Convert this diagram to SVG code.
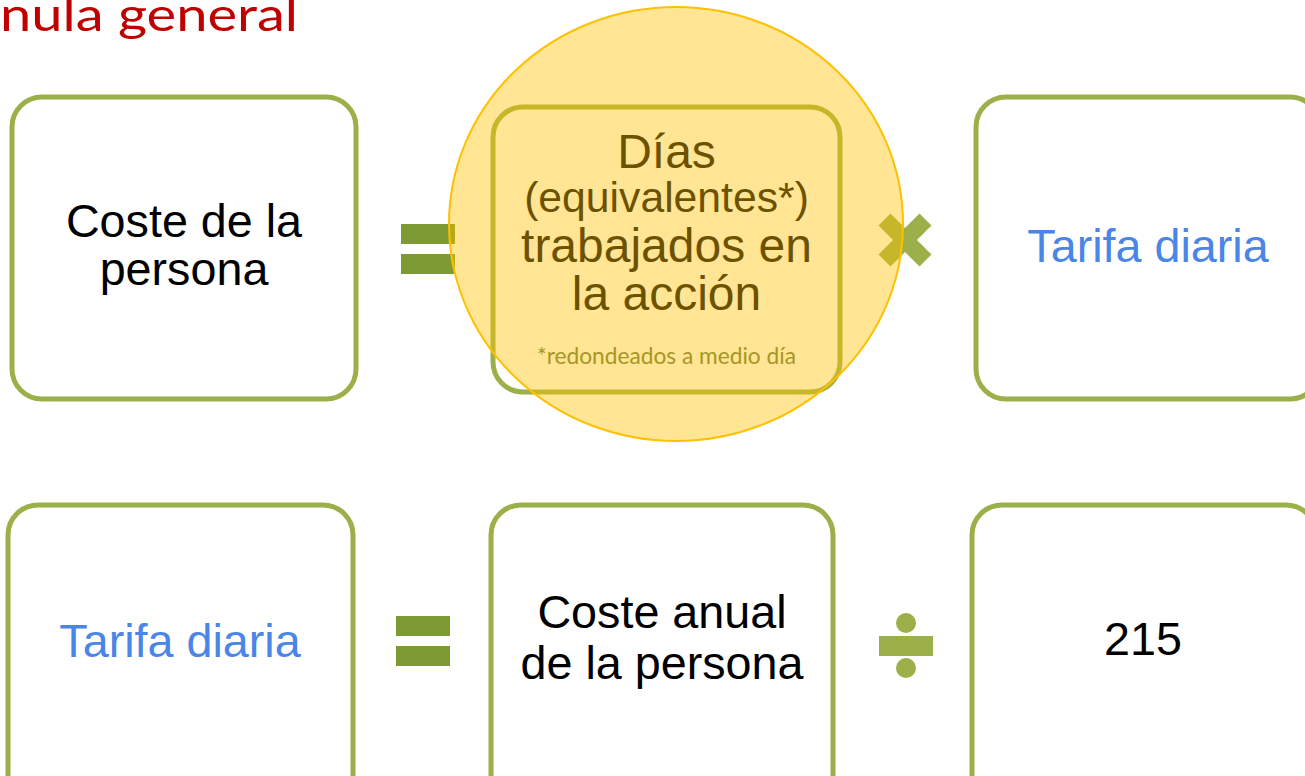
<svg xmlns="http://www.w3.org/2000/svg" width="1305" height="776" viewBox="0 0 1305 776">
  <style>
    .box { fill: #ffffff; stroke: #9BB048; stroke-width: 5; }
    .big { font-family: "Liberation Sans", Arial, sans-serif; font-size: 46.7px; text-anchor: middle; fill: #000000; }
    .blue { fill: #4A86E8; }
    .eq { fill: #7E9A35; }
    .op { fill: #9BB048; }
    .title { font-family: Lato, "Open Sans", sans-serif; font-size: 46px; fill: #C00000; }
  </style>
  <rect width="1305" height="776" fill="#ffffff"/>

  <text class="title" x="0" y="31" textLength="298" lengthAdjust="spacingAndGlyphs">nula general</text>

  <g id="node-coste-persona">
    <rect class="box" x="12" y="97" width="344" height="302" rx="30" ry="30"/>
    <text class="big" x="184" y="237">Coste de la</text>
    <text class="big" x="184" y="285">persona</text>
  </g>

  <g id="node-dias">
    <rect class="box" x="493" y="107" width="347" height="285" rx="30" ry="30"/>
    <text class="big" x="666.5" y="168" style="font-size:48px">Días</text>
    <text class="big" x="666.5" y="212" style="font-size:42.7px">(equivalentes*)</text>
    <text class="big" x="666.5" y="262" style="font-size:48px">trabajados en</text>
    <text class="big" x="666.5" y="310" style="font-size:48px">la acción</text>
    <text x="537" y="364" textLength="259" lengthAdjust="spacingAndGlyphs" style="font-family:Lato, 'Open Sans', sans-serif; font-size:23px; fill:#647745">*redondeados a medio día</text>
  </g>

  <g id="node-tarifa-top">
    <rect class="box" x="976" y="97" width="344" height="302" rx="30" ry="30"/>
    <text class="big blue" x="1148" y="262">Tarifa diaria</text>
  </g>

  <g id="node-tarifa-bottom">
    <rect class="box" x="8" y="505" width="345" height="305" rx="30" ry="30"/>
    <text class="big blue" x="180" y="657">Tarifa diaria</text>
  </g>

  <g id="node-coste-anual">
    <rect class="box" x="491" y="505" width="342" height="305" rx="30" ry="30"/>
    <text class="big" x="662" y="628">Coste anual</text>
    <text class="big" x="662" y="679">de la persona</text>
  </g>

  <g id="node-215">
    <rect class="box" x="972" y="505" width="344" height="305" rx="30" ry="30"/>
    <text class="big" x="1143" y="655">215</text>
  </g>

  <g id="connectors">
    <g id="op-equals-top">
      <rect class="eq" x="401" y="224" width="54" height="20"/>
      <rect class="eq" x="401" y="254" width="54" height="20"/>
    </g>
    <g id="op-times" transform="translate(905 240)">
      <rect class="op" x="-29" y="-8.5" width="58" height="17" transform="rotate(45)"/>
      <rect class="op" x="-29" y="-8.5" width="58" height="17" transform="rotate(-45)"/>
    </g>
    <g id="op-equals-bottom">
      <rect class="eq" x="396" y="616" width="54" height="20"/>
      <rect class="eq" x="396" y="646" width="54" height="20"/>
    </g>
    <g id="op-divide">
      <circle class="op" cx="906" cy="623" r="10"/>
      <rect class="op" x="879" y="636" width="54" height="20"/>
      <circle class="op" cx="906" cy="668" r="10"/>
    </g>
  </g>

  <g id="highlight">
    <ellipse cx="676" cy="224" rx="227" ry="217" fill="#FFC000" fill-opacity="0.42" stroke="#FFC000" stroke-width="2"/>
  </g>
</svg>
